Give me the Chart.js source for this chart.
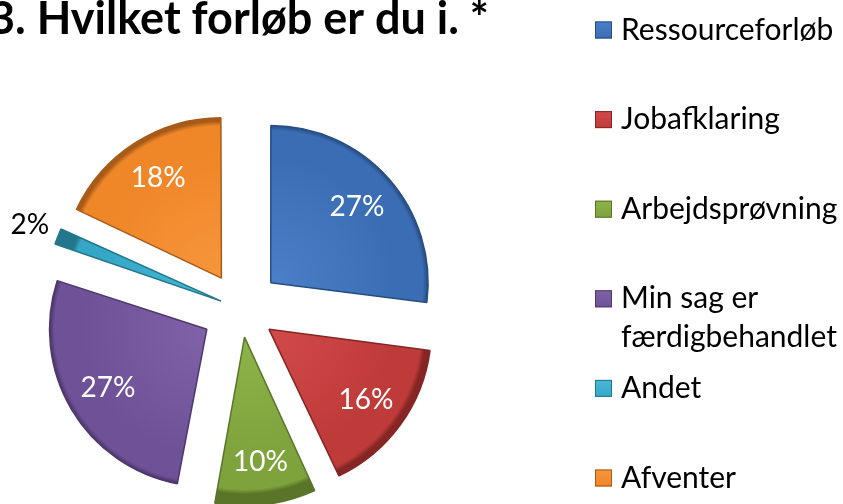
<!DOCTYPE html>
<html>
<head>
<meta charset="utf-8">
<script src="https://cdn.jsdelivr.net/npm/chart.js@4"></script>
<style>
  html, body { margin: 0; padding: 0; background: #fff; }
  #wrap { width: 843px; height: 504px; position: relative; }
</style>
</head>
<body>
<div id="wrap"><canvas id="myChart"></canvas></div>
<script>
const titleText = '3. Hvilket forløb er du i. *';
const categories = ['Ressourceforløb', 'Jobafklaring', 'Arbejdsprøvning', 'Min sag er færdigbehandlet', 'Andet', 'Afventer'];
const percents = [27, 16, 10, 27, 2, 18];
// legend text, broken where the long label wraps
const legendLines = [['Ressourceforløb'], ['Jobafklaring'], ['Arbejdsprøvning'], ['Min sag er', 'færdigbehandlet'], ['Andet'], ['Afventer']];
const colors = ['#3a6db4', '#bf3b3a', '#7ea23c', '#6f5197', '#35a7c6', '#ef8628'];
const lights = ['#4a80c8', '#d04a48', '#8db44a', '#8062a8', '#48bad8', '#f7963c'];
const edges = ['#274d82', '#862624', '#5a7528', '#4d376b', '#23778c', '#a85b18'];

const explode = 40; // px every slice is pulled out
const pieRadius = 157;
const total = percents.reduce((a, b) => a + b, 0);

// Chart.js moves an arc by offset/4, plus extra for narrow arcs;
// work back to the option value that gives the same pull for each slice
function sliceOffset(i) {
  const circ = (percents[i] / total) * Math.PI * 2;
  const fix = 1 - Math.sin(Math.min(Math.PI, circ));
  return (explode * 4) / (1 + fix);
}
function realShift(arc) {
  const fix = 1 - Math.sin(Math.min(Math.PI, arc.circumference));
  return (arc.options.offset / 4) * (1 + fix);
}

// soft bevel: lighter middle, darker rim (drawn in the arc's own shifted space)
function sliceFill(c) {
  const i = c.dataIndex;
  const area = c.chart.chartArea;
  if (!area) return colors[i];
  const cx = (area.left + area.right) / 2;
  const cy = (area.top + area.bottom) / 2;
  const g = c.chart.ctx.createRadialGradient(cx, cy, 0, cx, cy, pieRadius);
  g.addColorStop(0, lights[i]);
  g.addColorStop(0.8, colors[i]);
  g.addColorStop(0.97, colors[i]);
  g.addColorStop(1, edges[i]);
  return g;
}

// percentage labels on the slices (small slices get a black label outside)
const sliceLabels = {
  id: 'sliceLabels',
  afterDatasetsDraw(chart) {
    const ctx = chart.ctx;
    const meta = chart.getDatasetMeta(0);
    ctx.save();
    ctx.font = '28px Lato';
    ctx.textAlign = 'center';
    ctx.textBaseline = 'middle';
    meta.data.forEach((arc, i) => {
      const mid = (arc.startAngle + arc.endAngle) / 2;
      const off = realShift(arc);
      const small = percents[i] < 5;
      const r = small ? off + arc.outerRadius + 30 : off + arc.outerRadius * 0.73;
      ctx.fillStyle = small ? '#000' : '#fff';
      ctx.fillText(percents[i] + '%', arc.x + Math.cos(mid) * r, arc.y + Math.sin(mid) * r);
    });
    ctx.restore();
  }
};

// title and legend on the right
const sideText = {
  id: 'sideText',
  afterDraw(chart) {
    const ctx = chart.ctx;
    ctx.save();
    ctx.fillStyle = '#000';
    ctx.font = 'bold 45px Lato';
    ctx.textAlign = 'right';
    ctx.textBaseline = 'alphabetic';
    ctx.fillText(titleText, 489, 34);

    ctx.font = '30px Lato';
    ctx.textAlign = 'left';
    ctx.textBaseline = 'middle';
    legendLines.forEach((lines, i) => {
      const cy = 30 + i * 89.6;
      const g = ctx.createLinearGradient(0, cy - 8.5, 0, cy + 8.5);
      g.addColorStop(0, lights[i]);
      g.addColorStop(1, colors[i]);
      ctx.fillStyle = g;
      ctx.fillRect(595, cy - 8.5, 17, 17);
      ctx.strokeStyle = edges[i];
      ctx.lineWidth = 1;
      ctx.strokeRect(595.5, cy - 8, 16, 16);
      ctx.fillStyle = '#000';
      lines.forEach((t, k) => ctx.fillText(t, 621, cy + k * 39));
    });
    ctx.restore();
  }
};

const ctx = document.getElementById('myChart');
new Chart(ctx, {
  type: 'pie',
  data: {
    labels: categories,
    datasets: [
      {
        data: percents,
        backgroundColor: sliceFill,
        borderColor: edges,
        borderWidth: 1.5,
        offset: (c) => sliceOffset(c.dataIndex),
      },
    ],
  },
  options: {
    responsive: true,
    maintainAspectRatio: false,
    animation: false,
    radius: pieRadius,
    layout: {
      padding: { left: 0, right: 361, top: 114, bottom: 0 },
    },
    plugins: {
      legend: { display: false },
      title: { display: false },
      tooltip: { enabled: false },
    },
    events: [],
  },
  plugins: [sliceLabels, sideText],
});
</script>
</body>
</html>
